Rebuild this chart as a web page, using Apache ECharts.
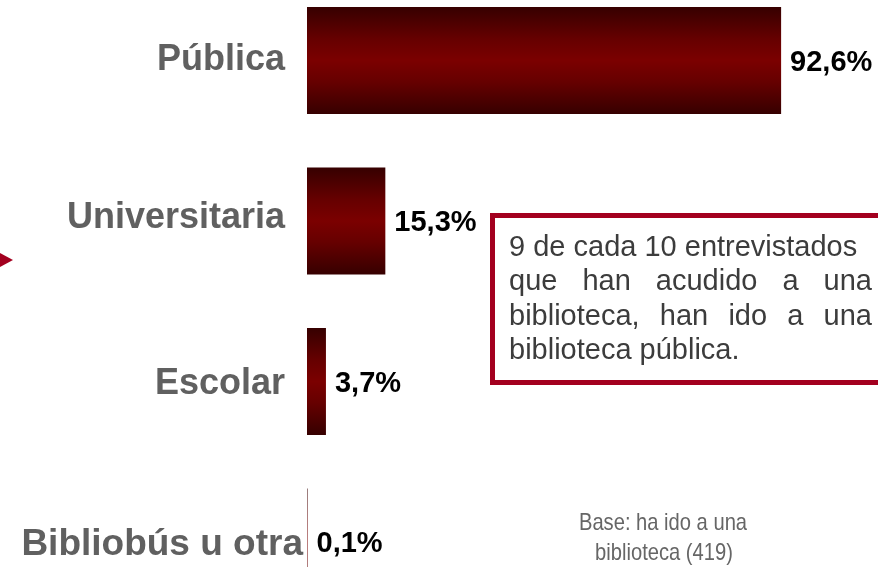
<!DOCTYPE html>
<html>
<head>
<meta charset="utf-8">
<script src="https://cdn.jsdelivr.net/npm/echarts@6/dist/echarts.min.js"></script>
<style>
html,body{margin:0;padding:0;background:#fff;}
#main{width:878px;height:567px;}
</style>
</head>
<body>
<div id="main"></div>
<script>
// ---- data ----
const categories = ['Pública', 'Universitaria', 'Escolar', 'Bibliobús u otra'];
const values = [92.6, 15.3, 3.7, 0.1];
const noteLines = ['9 de cada 10 entrevistados', 'que han acudido a una', 'biblioteca, han ido a una', 'biblioteca pública.'];
const baseLines = ['Base: ha ido a una', 'biblioteca (419)'];

const FONT = '"Liberation Sans", Arial, Helvetica, sans-serif';
const RED = '#a3001f';

function fmt(v) { return v.toFixed(1).replace('.', ',') + '%'; }

// measure text for justified note
const mctx = document.createElement('canvas').getContext('2d');
function tw(t, size) { mctx.font = size + 'px ' + FONT; return mctx.measureText(t).width; }

const noteSize = 29, noteLeft = 509, noteRight = 872, noteTop = 247.5, noteStep = 34.5;
const noteEls = [];
noteLines.forEach(function (line, i) {
  const y = noteTop + i * noteStep;
  const justify = i > 0 && i < noteLines.length - 1;
  if (!justify) {
    noteEls.push({ type: 'text', x: noteLeft, y: y, style: { text: line, fill: '#3c3c3c', font: noteSize + 'px ' + FONT, textAlign: 'left', textVerticalAlign: 'middle' } });
  } else {
    const words = line.split(' ');
    const wsum = words.reduce(function (s, w) { return s + tw(w, noteSize); }, 0);
    const gap = (noteRight - noteLeft - wsum) / (words.length - 1);
    let x = noteLeft;
    words.forEach(function (w) {
      noteEls.push({ type: 'text', x: x, y: y, style: { text: w, fill: '#3c3c3c', font: noteSize + 'px ' + FONT, textAlign: 'left', textVerticalAlign: 'middle' } });
      x += tw(w, noteSize) + gap;
    });
  }
});

const chart = echarts.init(document.getElementById('main'), null, { renderer: 'canvas' });

const barGradient = new echarts.graphic.LinearGradient(0, 0, 0, 1, [
  { offset: 0, color: '#360000' },
  { offset: 0.3, color: '#660000' },
  { offset: 0.5, color: '#7b0000' },
  { offset: 0.7, color: '#660000' },
  { offset: 1, color: '#360000' }
]);

const labelBase = { fontFamily: FONT, fontWeight: 'bold', fontSize: 36, color: '#606060' };
const labelStyles = ['p', 'u', 'e', 'b'];

const option = {
  backgroundColor: '#ffffff',
  animation: false,
  grid: { left: 307, width: 512, top: -19.75, height: 642, containLabel: false, outerBoundsMode: 'none' },
  xAxis: { type: 'value', min: 0, max: 100, show: false },
  yAxis: {
    type: 'category', inverse: true, data: categories,
    axisLine: { show: false }, axisTick: { show: false }, splitLine: { show: false },
    axisLabel: {
      margin: 4,
      formatter: function (v, i) { return '{' + labelStyles[i] + '|' + v + '}'; },
      rich: {
        p: Object.assign({}, labelBase, { padding: [0, 18, 1, 0] }),
        u: Object.assign({}, labelBase, { padding: [0, 18, 5, 0] }),
        e: Object.assign({}, labelBase, { padding: [6, 18, 0, 0] }),
        b: Object.assign({}, labelBase, { fontSize: 37, padding: [6, 0, 0, 0] })
      }
    }
  },
  series: [{
    type: 'bar',
    data: values,
    barWidth: 107,
    itemStyle: { color: barGradient },
    label: {
      show: true, position: 'right', distance: 9,
      formatter: function (p) { return fmt(p.value); },
      fontFamily: FONT, fontWeight: 'bold', fontSize: 29, color: '#000',
      offset: [0, 2]
    }
  }],
  graphic: [
    { type: 'polygon', shape: { points: [[0, 253], [13, 260], [0, 267]] }, style: { fill: RED } },
    { type: 'rect', shape: { x: 492.5, y: 215.5, width: 420, height: 167 }, style: { fill: '#fff', stroke: RED, lineWidth: 5 } }
  ].concat(noteEls).concat([
    { type: 'text', x: 663, y: 523, scaleX: 0.84, style: { text: baseLines[0], fill: '#666666', font: '24px ' + FONT, textAlign: 'center', textVerticalAlign: 'middle' } },
    { type: 'text', x: 664, y: 553, scaleX: 0.84, style: { text: baseLines[1], fill: '#666666', font: '24px ' + FONT, textAlign: 'center', textVerticalAlign: 'middle' } }
  ])
};
chart.setOption(option);
</script>
</body>
</html>
